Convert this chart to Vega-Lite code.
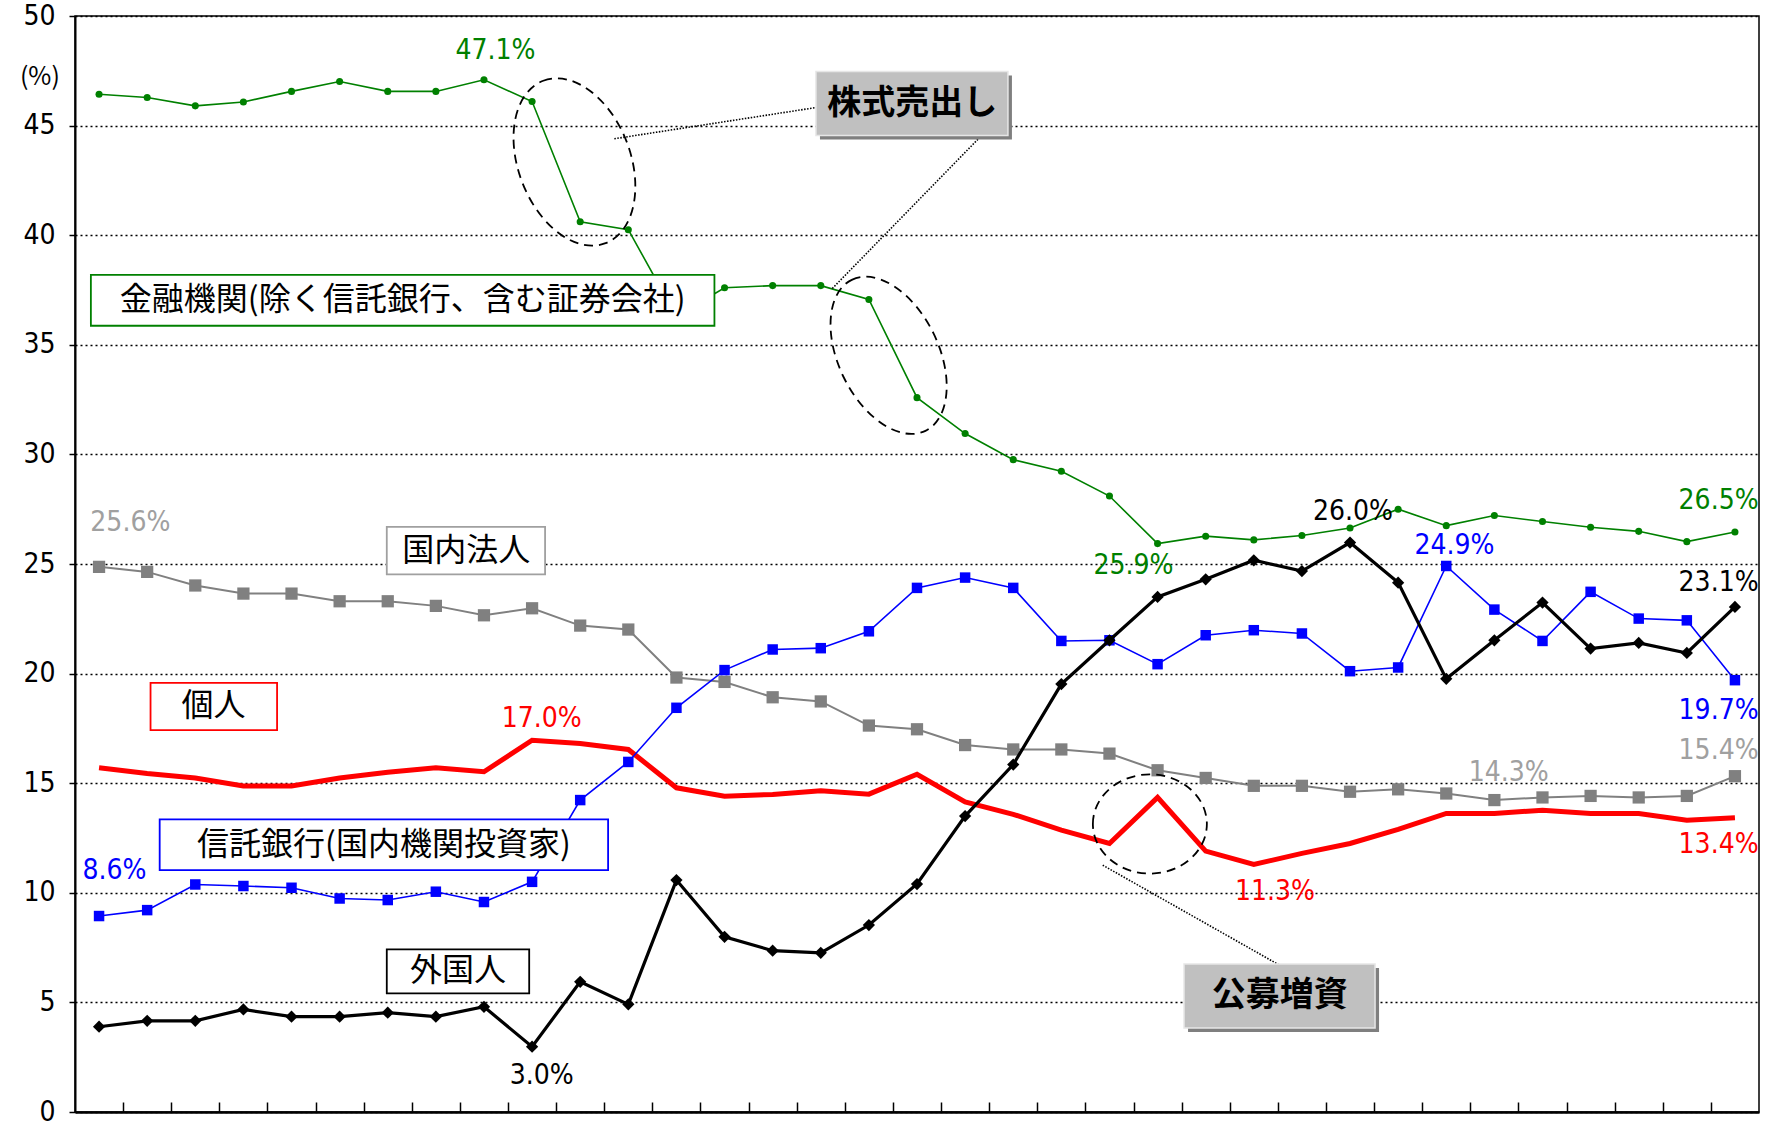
{
  "$schema": "https://vega.github.io/schema/vega-lite/v6.json",
  "width": 1684,
  "height": 1096,
  "autosize": {"type": "none"},
  "padding": {"left": 75, "top": 16, "right": 13, "bottom": 15},
  "background": "white",
  "config": {"view": {"stroke": "black", "strokeWidth": 1.5}},
  "datasets": {
    "main": [
      {"p":1,"fin":46.43,"corp":24.87,"ind":15.70,"trust":8.94,"frn":3.89},
      {"p":2,"fin":46.28,"corp":24.64,"ind":15.44,"trust":9.21,"frn":4.16},
      {"p":3,"fin":45.90,"corp":24.02,"ind":15.24,"trust":10.38,"frn":4.16},
      {"p":4,"fin":46.08,"corp":23.65,"ind":14.87,"trust":10.31,"frn":4.68},
      {"p":5,"fin":46.56,"corp":23.65,"ind":14.87,"trust":10.23,"frn":4.35},
      {"p":6,"fin":47.01,"corp":23.30,"ind":15.24,"trust":9.74,"frn":4.35},
      {"p":7,"fin":46.56,"corp":23.30,"ind":15.50,"trust":9.67,"frn":4.53},
      {"p":8,"fin":46.56,"corp":23.09,"ind":15.70,"trust":10.05,"frn":4.35},
      {"p":9,"fin":47.09,"corp":22.66,"ind":15.52,"trust":9.58,"frn":4.80},
      {"p":10,"fin":46.10,"corp":22.98,"ind":16.96,"trust":10.50,"frn":2.98},
      {"p":11,"fin":40.61,"corp":22.19,"ind":16.81,"trust":14.23,"frn":5.94},
      {"p":12,"fin":40.25,"corp":22.01,"ind":16.54,"trust":15.97,"frn":4.91},
      {"p":13,"fin":36.30,"corp":19.82,"ind":14.79,"trust":18.44,"frn":10.58},
      {"p":14,"fin":37.60,"corp":19.62,"ind":14.41,"trust":20.16,"frn":7.99},
      {"p":15,"fin":37.70,"corp":18.92,"ind":14.49,"trust":21.10,"frn":7.36},
      {"p":16,"fin":37.70,"corp":18.73,"ind":14.65,"trust":21.16,"frn":7.26},
      {"p":17,"fin":37.07,"corp":17.63,"ind":14.50,"trust":21.93,"frn":8.53},
      {"p":18,"fin":32.59,"corp":17.46,"ind":15.41,"trust":23.91,"frn":10.40},
      {"p":19,"fin":30.95,"corp":16.74,"ind":14.15,"trust":24.38,"frn":13.50},
      {"p":20,"fin":29.76,"corp":16.54,"ind":13.58,"trust":23.91,"frn":15.85},
      {"p":21,"fin":29.23,"corp":16.54,"ind":12.86,"trust":21.49,"frn":19.52},
      {"p":22,"fin":28.10,"corp":16.35,"ind":12.25,"trust":21.52,"frn":21.52},
      {"p":23,"fin":25.93,"corp":15.59,"ind":14.35,"trust":20.43,"frn":23.50},
      {"p":24,"fin":26.27,"corp":15.24,"ind":11.90,"trust":21.75,"frn":24.30},
      {"p":25,"fin":26.10,"corp":14.88,"ind":11.29,"trust":21.98,"frn":25.17},
      {"p":26,"fin":26.30,"corp":14.88,"ind":11.80,"trust":21.83,"frn":24.68},
      {"p":27,"fin":26.64,"corp":14.61,"ind":12.25,"trust":20.11,"frn":25.98},
      {"p":28,"fin":27.50,"corp":14.72,"ind":12.89,"trust":20.28,"frn":24.15},
      {"p":29,"fin":26.75,"corp":14.53,"ind":13.62,"trust":24.91,"frn":19.76},
      {"p":30,"fin":27.21,"corp":14.23,"ind":13.62,"trust":22.92,"frn":21.52},
      {"p":31,"fin":26.94,"corp":14.35,"ind":13.77,"trust":21.49,"frn":23.24},
      {"p":32,"fin":26.68,"corp":14.42,"ind":13.62,"trust":23.73,"frn":21.14},
      {"p":33,"fin":26.49,"corp":14.35,"ind":13.62,"trust":22.51,"frn":21.40},
      {"p":34,"fin":26.02,"corp":14.42,"ind":13.31,"trust":22.43,"frn":20.94},
      {"p":35,"fin":26.46,"corp":15.32,"ind":13.42,"trust":19.70,"frn":23.04}
    ],
    "boxes": [
      {"t":"金融機関(除く信託銀行、含む証券会社)","s":"fin","x1":0.83,"x2":13.79,"y1":35.87,"y2":38.19,"xc":7.31,"yc":37.03},
      {"t":"国内法人","s":"corp","x1":6.98,"x2":10.27,"y1":24.53,"y2":26.69,"xc":8.63,"yc":25.61},
      {"t":"個人","s":"ind","x1":2.07,"x2":4.70,"y1":17.42,"y2":19.58,"xc":3.38,"yc":18.50},
      {"t":"信託銀行(国内機関投資家)","s":"trust","x1":2.26,"x2":11.58,"y1":11.03,"y2":13.35,"xc":6.92,"yc":12.19},
      {"t":"外国人","s":"frn","x1":6.98,"x2":9.94,"y1":5.41,"y2":7.42,"xc":8.46,"yc":6.41}
    ],
    "callouts": [
      {"t":"株式売出し","x1":15.90,"x2":19.89,"y1":44.55,"y2":47.47,"xc":17.90,"yc":46.0},
      {"t":"公募増資","x1":23.55,"x2":27.52,"y1":3.83,"y2":6.75,"xc":25.54,"yc":5.29}
    ],
    "leaders": [
      {"x":11.71,"y":44.40,"x2":15.95,"y2":45.84},
      {"x":16.24,"y":37.57,"x2":19.93,"y2":45.87},
      {"x":21.86,"y":11.26,"x2":25.59,"y2":6.63}
    ],
    "labels": [
      {"t":"47.1%","s":"fin","x":9.24,"y":48.39},
      {"t":"25.6%","s":"corp","x":1.65,"y":26.85},
      {"t":"17.0%","s":"ind","x":10.20,"y":17.93},
      {"t":"8.6%","s":"trust","x":1.32,"y":10.98},
      {"t":"3.0%","s":"frn","x":10.20,"y":1.65},
      {"t":"25.9%","s":"fin","x":22.50,"y":24.89},
      {"t":"26.0%","s":"frn","x":27.06,"y":27.36},
      {"t":"24.9%","s":"trust","x":29.17,"y":25.82},
      {"t":"26.5%","s":"fin","x":34.66,"y":27.88},
      {"t":"23.1%","s":"frn","x":34.66,"y":24.12},
      {"t":"19.7%","s":"trust","x":34.66,"y":18.29},
      {"t":"15.4%","s":"corp","x":34.66,"y":16.49},
      {"t":"14.3%","s":"corp","x":30.30,"y":15.46},
      {"t":"11.3%","s":"ind","x":25.44,"y":10.05},
      {"t":"13.4%","s":"ind","x":34.66,"y":12.16}
    ],
    "unit": [{"t":"(%)","x":-0.23,"y":47.2}],
    "e1": [{"x":10.88,"y":43.34}],
    "e2": [{"x":17.41,"y":34.52}],
    "e3": [{"x":22.84,"y":13.14}]
  },
  "layer": [
    {
      "data": {"name": "main"},
      "mark": {"type": "line", "color": "#008000", "strokeWidth": 1.6, "point": {"filled": true, "size": 50, "color": "#008000", "opacity": 1}},
      "encoding": {
        "x": {"field": "p", "type": "quantitative", "scale": {"domain": [0.5, 35.5], "nice": false, "zero": false},
              "axis": {"values": [1.5,2.5,3.5,4.5,5.5,6.5,7.5,8.5,9.5,10.5,11.5,12.5,13.5,14.5,15.5,16.5,17.5,18.5,19.5,20.5,21.5,22.5,23.5,24.5,25.5,26.5,27.5,28.5,29.5,30.5,31.5,32.5,33.5,34.5],
                       "labels": false, "title": null, "grid": false, "tickSize": -10, "tickColor": "black", "tickWidth": 1.5, "domainColor": "black", "domainWidth": 2.5}},
        "y": {"field": "fin", "type": "quantitative", "scale": {"domain": [0, 50], "nice": false, "zero": true},
              "axis": {"values": [0,5,10,15,20,25,30,35,40,45,50], "title": null, "grid": true, "gridColor": "black", "gridDash": [2, 3], "gridWidth": 1.6,
                       "tickSize": 6, "tickColor": "black", "tickWidth": 1.5, "domainColor": "black", "domainWidth": 2,
                       "labelFont": "Liberation Sans Narrow, Arial Narrow, DejaVu Sans Condensed, Liberation Sans, sans-serif", "labelFontSize": 28, "labelColor": "black", "labelPadding": 14}}
      }
    },
    {
      "data": {"name": "main"},
      "mark": {"type": "line", "color": "#808080", "strokeWidth": 2, "point": {"filled": true, "shape": "square", "size": 150, "color": "#808080", "opacity": 1}},
      "encoding": {"x": {"field": "p", "type": "quantitative"}, "y": {"field": "corp", "type": "quantitative"}}
    },
    {
      "data": {"name": "main"},
      "mark": {"type": "line", "color": "#FF0000", "strokeWidth": 5},
      "encoding": {"x": {"field": "p", "type": "quantitative"}, "y": {"field": "ind", "type": "quantitative"}}
    },
    {
      "data": {"name": "main"},
      "mark": {"type": "line", "color": "#0000FF", "strokeWidth": 1.6, "point": {"filled": true, "shape": "square", "size": 110, "color": "#0000FF", "opacity": 1}},
      "encoding": {"x": {"field": "p", "type": "quantitative"}, "y": {"field": "trust", "type": "quantitative"}}
    },
    {
      "data": {"name": "main"},
      "mark": {"type": "line", "color": "#000000", "strokeWidth": 3.2, "point": {"filled": true, "shape": "diamond", "size": 150, "color": "#000000", "opacity": 1}},
      "encoding": {"x": {"field": "p", "type": "quantitative"}, "y": {"field": "frn", "type": "quantitative"}}
    },
    {
      "data": {"name": "leaders"},
      "mark": {"type": "rule", "color": "black", "strokeWidth": 1.6, "strokeDash": [1.5, 1.5]},
      "encoding": {"x": {"field": "x", "type": "quantitative"}, "y": {"field": "y", "type": "quantitative"}, "x2": {"field": "x2"}, "y2": {"field": "y2"}}
    },
    {
      "data": {"name": "e1"},
      "mark": {"type": "point", "shape": "M0,-1C0.3557,-1,0.644,-0.5523,0.644,0C0.644,0.5523,0.3557,1,0,1C-0.3557,1,-0.644,0.5523,-0.644,0C-0.644,-0.5523,-0.3557,-1,0,-1Z", "size": 30276, "angle": -21, "filled": false, "stroke": "black", "strokeWidth": 1.8, "strokeDash": [9, 6], "opacity": 1},
      "encoding": {"x": {"field": "x", "type": "quantitative"}, "y": {"field": "y", "type": "quantitative"}}
    },
    {
      "data": {"name": "e2"},
      "mark": {"type": "point", "shape": "M0,-1C0.3286,-1,0.595,-0.5523,0.595,0C0.595,0.5523,0.3286,1,0,1C-0.3286,1,-0.595,0.5523,-0.595,0C-0.595,-0.5523,-0.3286,-1,0,-1Z", "size": 28224, "angle": -26, "filled": false, "stroke": "black", "strokeWidth": 1.8, "strokeDash": [9, 6], "opacity": 1},
      "encoding": {"x": {"field": "x", "type": "quantitative"}, "y": {"field": "y", "type": "quantitative"}}
    },
    {
      "data": {"name": "e3"},
      "mark": {"type": "point", "shape": "M-1,0C-1,-0.4805,-0.5523,-0.87,0,-0.87C0.5523,-0.87,1,-0.4805,1,0C1,0.4805,0.5523,0.87,0,0.87C-0.5523,0.87,-1,0.4805,-1,0Z", "size": 12996, "angle": 0, "filled": false, "stroke": "black", "strokeWidth": 1.8, "strokeDash": [9, 6], "opacity": 1},
      "encoding": {"x": {"field": "x", "type": "quantitative"}, "y": {"field": "y", "type": "quantitative"}}
    },
    {
      "data": {"name": "boxes"},
      "mark": {"type": "rect", "fill": "white", "strokeWidth": 1.8},
      "encoding": {
        "x": {"field": "x1", "type": "quantitative"}, "x2": {"field": "x2"},
        "y": {"field": "y1", "type": "quantitative"}, "y2": {"field": "y2"},
        "stroke": {"field": "s", "type": "nominal", "scale": {"domain": ["fin","corp","ind","trust","frn"], "range": ["#008000","#A0A0A0","#FF0000","#0000FF","#000000"]}, "legend": null}
      }
    },
    {
      "data": {"name": "boxes"},
      "mark": {"type": "text", "font": "Noto Sans CJK JP", "fontSize": 32, "color": "black", "align": "center", "baseline": "middle"},
      "encoding": {"x": {"field": "xc", "type": "quantitative"}, "y": {"field": "yc", "type": "quantitative"}, "text": {"field": "t"}}
    },
    {
      "data": {"name": "callouts"},
      "mark": {"type": "rect", "fill": "#7F7F7F", "xOffset": 4, "x2Offset": 4, "yOffset": 4, "y2Offset": 4},
      "encoding": {"x": {"field": "x1", "type": "quantitative"}, "x2": {"field": "x2"}, "y": {"field": "y1", "type": "quantitative"}, "y2": {"field": "y2"}}
    },
    {
      "data": {"name": "callouts"},
      "mark": {"type": "rect", "fill": "#C0C0C0", "stroke": "#E6E6E6", "strokeWidth": 1.5},
      "encoding": {"x": {"field": "x1", "type": "quantitative"}, "x2": {"field": "x2"}, "y": {"field": "y1", "type": "quantitative"}, "y2": {"field": "y2"}}
    },
    {
      "data": {"name": "callouts"},
      "mark": {"type": "text", "font": "Noto Sans CJK JP", "fontSize": 34, "fontWeight": "bold", "color": "black", "align": "center", "baseline": "middle"},
      "encoding": {"x": {"field": "xc", "type": "quantitative"}, "y": {"field": "yc", "type": "quantitative"}, "text": {"field": "t"}}
    },
    {
      "data": {"name": "labels"},
      "mark": {"type": "text", "font": "Liberation Sans Narrow, Arial Narrow, DejaVu Sans Condensed, Liberation Sans, sans-serif", "fontSize": 28, "align": "center", "baseline": "middle"},
      "encoding": {
        "x": {"field": "x", "type": "quantitative"}, "y": {"field": "y", "type": "quantitative"}, "text": {"field": "t"},
        "color": {"field": "s", "type": "nominal", "scale": {"domain": ["fin","corp","ind","trust","frn"], "range": ["#008000","#A0A0A0","#FF0000","#0000FF","#000000"]}, "legend": null}
      }
    },
    {
      "data": {"name": "unit"},
      "mark": {"type": "text", "font": "Noto Sans CJK JP", "fontSize": 25, "color": "black", "align": "center", "baseline": "middle"},
      "encoding": {"x": {"field": "x", "type": "quantitative"}, "y": {"field": "y", "type": "quantitative"}, "text": {"field": "t"}}
    }
  ]
}
